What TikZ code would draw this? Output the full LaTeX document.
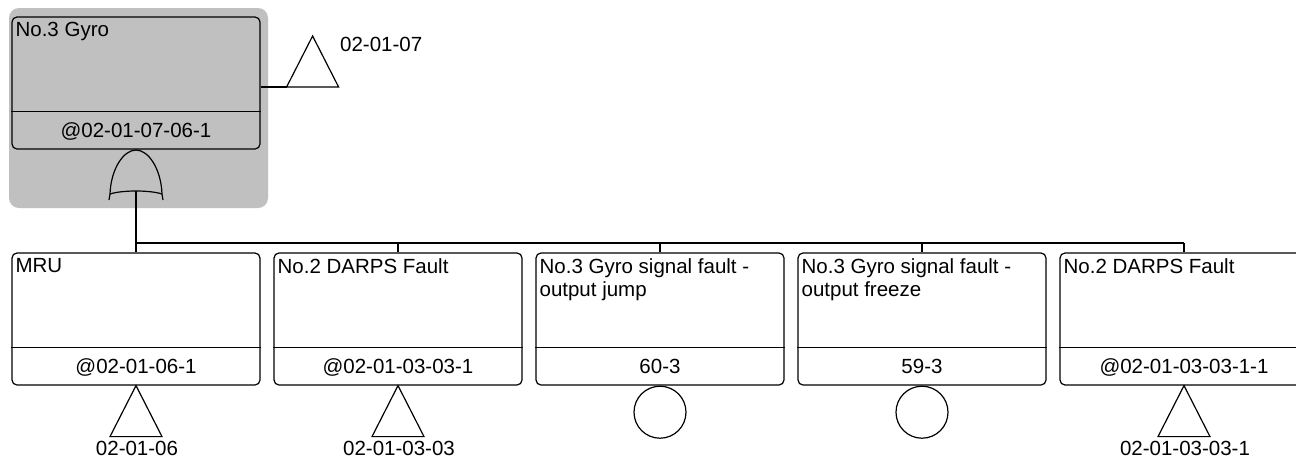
\documentclass[tikz,border=0pt]{standalone}
\usepackage{fontspec}
\setmainfont{Liberation Sans}
\usepackage{xcolor}
\definecolor{Highlight}{HTML}{C0C0C0}
\definecolor{Ink}{HTML}{000000}
\definecolor{Sheet}{HTML}{FFFFFF}

\begin{document}
\begin{tikzpicture}[x=1pt, y=-1pt,
    event/.style={draw=Ink, fill=Sheet, rounded corners=5pt, line width=1.2pt, minimum width=248pt, minimum height=132pt, inner sep=0pt},
    topevent/.style={event, fill=Highlight},
    eventtitle/.style={font=\fontsize{20.5}{23}\selectfont, text=Ink, align=left, inner sep=0pt, anchor=north west},
    eventcode/.style={font=\fontsize{20.5}{23}\selectfont, text=Ink, inner sep=0pt, anchor=base},
    reflabel/.style={font=\fontsize{20.5}{23}\selectfont, text=Ink, inner sep=0pt},
    link/.style={draw=Ink, line width=1.2pt},
    divider/.style={draw=Ink, line width=1.2pt},
    transfer/.style={draw=Ink, line width=1.2pt, line join=miter},
    basicevent/.style={circle, draw=Ink, fill=Sheet, line width=1.2pt, minimum size=52pt, inner sep=0pt, anchor=north},
    orgate/.style={draw=Ink, line width=1.2pt}
]

\useasboundingbox (0,0) rectangle (1296,464);
\clip (0,0) rectangle (1296,464);
\fill[Sheet] (0,0) rectangle (1296,464);

% highlighted top event
\fill[Highlight, rounded corners=10pt] (9,8) rectangle (268,208);
\node[topevent] (gyro) at (136,83) {};
\draw[divider] ([shift={(0,-38)}]gyro.south west) -- ([shift={(0,-38)}]gyro.south east);
\node[eventtitle] at ([shift={(4,6)}]gyro.north west) {No.3 Gyro};
\node[eventcode] at ([shift={(0,-12.5)}]gyro.south) {@02-01-07-06-1};

% transfer out of the top event
\draw[link] ([shift={(0,4)}]gyro.east) -- ++(26,0) coordinate (gyroT);
\draw[transfer] (gyroT) -- ++(26,-51) -- ++(26,51) -- cycle;
\node[reflabel, anchor=base west] (gyroRef) at (340,51) {02-01-07};

% OR gate
\draw[orgate] (109,200) -- (110,194) .. controls (111,168) and (124,150) .. (136,150)
      .. controls (148,150) and (161,168) .. (162,194) -- (163,200);
\draw[orgate] (110,194) .. controls (122,190) and (150,190) .. (162,194);
\coordinate (orOut) at (136,191);

% basic and intermediate events
\node[event] (mru) at (136,319) {};
\node[event] (darpsA) at (398,319) {};
\node[event] (jump) at (660,319) {};
\node[event] (freeze) at (922,319) {};
\node[event] (darpsB) at (1184,319) {};

\draw[divider] ([shift={(0,-38)}]mru.south west) -- ([shift={(0,-38)}]mru.south east);
\draw[divider] ([shift={(0,-38)}]darpsA.south west) -- ([shift={(0,-38)}]darpsA.south east);
\draw[divider] ([shift={(0,-38)}]jump.south west) -- ([shift={(0,-38)}]jump.south east);
\draw[divider] ([shift={(0,-38)}]freeze.south west) -- ([shift={(0,-38)}]freeze.south east);
\draw[divider] ([shift={(0,-38)}]darpsB.south west) -- ([shift={(0,-38)}]darpsB.south east);

\node[eventtitle] at ([shift={(4,6)}]mru.north west) {MRU};
\node[eventtitle] at ([shift={(4,6)}]darpsA.north west) {No.2 DARPS Fault};
\node[eventtitle] at ([shift={(4,6)}]jump.north west) {No.3 Gyro signal fault -\\output jump};
\node[eventtitle] at ([shift={(4,6)}]freeze.north west) {No.3 Gyro signal fault -\\output freeze};
\node[eventtitle] at ([shift={(4,6)}]darpsB.north west) {No.2 DARPS Fault};

\node[eventcode] at ([shift={(0,-12.5)}]mru.south) {@02-01-06-1};
\node[eventcode] at ([shift={(0,-12.5)}]darpsA.south) {@02-01-03-03-1};
\node[eventcode] at ([shift={(0,-12.5)}]jump.south) {60-3};
\node[eventcode] at ([shift={(0,-12.5)}]freeze.south) {59-3};
\node[eventcode] at ([shift={(0,-12.5)}]darpsB.south) {@02-01-03-03-1-1};

% bus from the gate
\draw[link] (orOut) -- (orOut |- 0,243) coordinate (bus);
\draw[link] (bus) -- (bus -| darpsB.north);
\draw[link] (bus -| mru.north) -- (mru.north);
\draw[link] (bus -| darpsA.north) -- (darpsA.north);
\draw[link] (bus -| jump.north) -- (jump.north);
\draw[link] (bus -| freeze.north) -- (freeze.north);
\draw[link] (bus -| darpsB.north) -- (darpsB.north);

% transfers and basic events below
\draw[transfer] (mru.south) -- ++(-26,51) -- ++(52,0) -- cycle;
\draw[transfer] (darpsA.south) -- ++(-26,51) -- ++(52,0) -- cycle;
\draw[transfer] (darpsB.south) -- ++(-26,51) -- ++(52,0) -- cycle;
\node[basicevent] (jumpCircle) at (jump.south) {};
\node[basicevent] (freezeCircle) at (freeze.south) {};

\node[reflabel, anchor=base] (mruRef) at ([shift={(1,70)}]mru.south) {02-01-06};
\node[reflabel, anchor=base] (darpsARef) at ([shift={(1,70)}]darpsA.south) {02-01-03-03};
\node[reflabel, anchor=base] (darpsBRef) at ([shift={(1,70)}]darpsB.south) {02-01-03-03-1};

\end{tikzpicture}
\end{document}
